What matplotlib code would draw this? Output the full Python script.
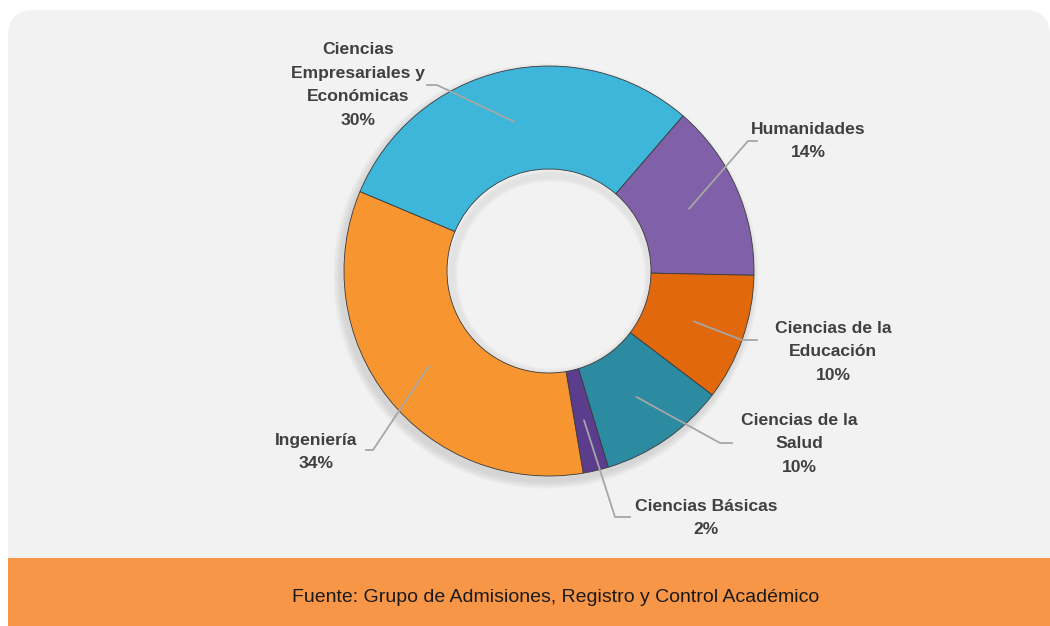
import numpy as np
import matplotlib
matplotlib.use('Agg')
from matplotlib import pyplot as plt
from matplotlib.patches import FancyBboxPatch, Rectangle

# data, clockwise from the top-right
labels = ['Humanidades', 'Ciencias de la\nEducación', 'Ciencias de la\nSalud',
          'Ciencias Básicas', 'Ingeniería', 'Ciencias\nEmpresariales y\nEconómicas']
values = [14, 10, 10, 2, 34, 30]
colors = ['#8061A9', '#E1680D', '#2C8AA1', '#5C3C8C', '#F79630', '#3DB6DA']

# label text positions in pixels (x, y from top) and leader elbow
label_pos = [(808, 141), (833, 352), (799, 444), (706, 518), (316, 452), (358, 85)]
elbow = [(757, 141), (757, 340), (732, 443), (630, 517), (366, 450), (427, 85)]
elbow_dx = [-9, -15, -12, -15, 7, 10]

W, H = 1050, 626
fig = plt.figure(figsize=(W / 100, H / 100), dpi=100)
fig.patch.set_facecolor('white')
ax = fig.add_axes([0, 0, 1, 1])

def py(y):
    return H - y

# background panel and bottom band
panel = FancyBboxPatch((8, py(600)), W - 8, 590, boxstyle='round,pad=0,rounding_size=26',
                       facecolor='#F2F2F2', edgecolor='none', zorder=0)
ax.add_patch(panel)
ax.add_patch(Rectangle((8, 0), W - 8, py(558), facecolor='#F79646', edgecolor='none', zorder=1))
ax.text(556, py(598), 'Fuente: Grupo de Admisiones, Registro y Control Académico',
        ha='center', va='center', fontsize=14, family='Liberation Sans', color='#1a1a1a', zorder=3)

cx, cy = 549, py(271)
R, ring = 205, 103

# soft shadow under the ring
for k in range(8):
    sh = plt.Circle((cx - 3, cy - 5), R + 8 - k, facecolor='#606060', alpha=0.025, edgecolor='none', zorder=1)
    ax.add_patch(sh)
ax.add_patch(plt.Circle((cx, cy), R - ring, facecolor='#F2F2F2', edgecolor='none', zorder=1))
for k in range(6):
    ax.add_patch(plt.Circle((cx + 2, cy - 4), R - ring + 1 - k * 1.5, facecolor='none',
                            edgecolor='#8a8a8a', alpha=0.05, linewidth=3, zorder=1))

wedges, _ = ax.pie(values, colors=colors, startangle=49.2, counterclock=False,
                   center=(cx, cy), radius=R, frame=True,
                   wedgeprops=dict(width=ring, edgecolor='#3a3a3a', linewidth=0.6))
for w in wedges:
    w.set_zorder(2)
ax.set_xlim(0, W)
ax.set_ylim(0, H)
ax.set_aspect('equal')
ax.axis('off')

total = sum(values)
for i, w in enumerate(wedges):
    mid = np.deg2rad((w.theta1 + w.theta2) / 2)
    r_in = R - ring * 0.5
    px, pyy = cx + r_in * np.cos(mid), cy + r_in * np.sin(mid)
    ex, ey = elbow[i]
    ax.plot([px, ex + elbow_dx[i], ex], [pyy, py(ey), py(ey)], color='#A6A6A6', linewidth=1.3, zorder=4)
    pct = '{}%'.format(round(100 * values[i] / total))
    lx, ly = label_pos[i]
    ax.text(lx, py(ly), labels[i] + '\n' + pct, ha='center', va='center', fontsize=12.6,
            fontweight='bold', family='Liberation Sans', color='#404040', linespacing=1.7, zorder=5)

fig.savefig('out.png', dpi=100, facecolor='white')
